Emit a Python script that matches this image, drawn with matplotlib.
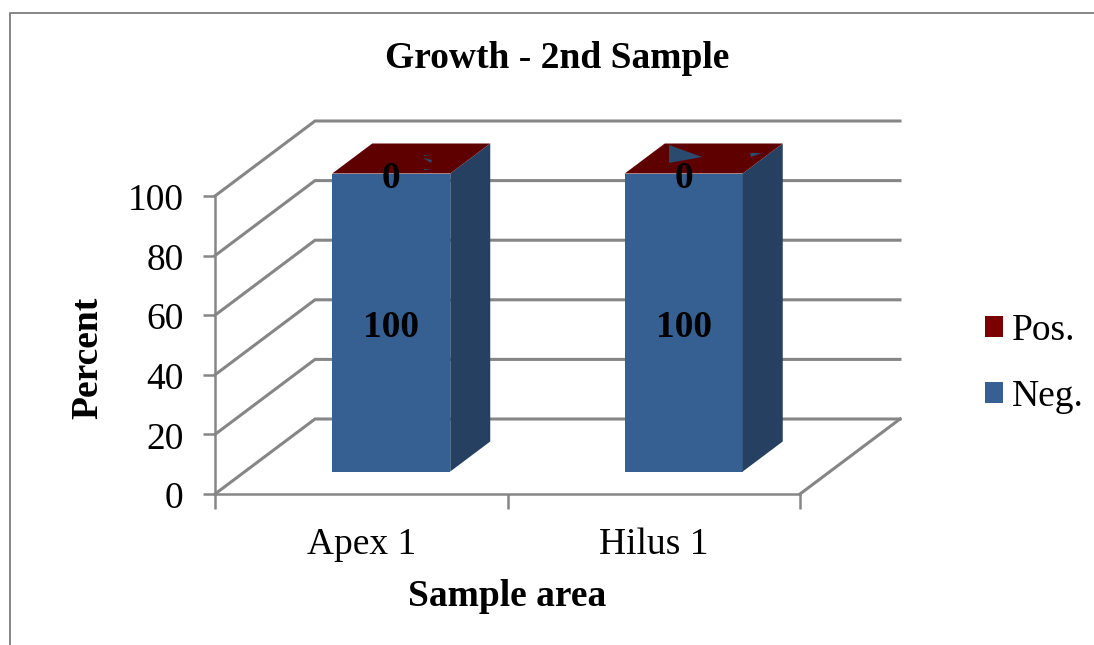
import matplotlib
matplotlib.use("Agg")
import matplotlib.pyplot as plt
from matplotlib.lines import Line2D
from matplotlib.patches import Polygon, Patch
from matplotlib.transforms import ScaledTranslation

categories = ["Apex 1", "Hilus 1"]
neg_values = [100, 100]
pos_values = [0, 0]
y_ticks = [0, 20, 40, 60, 80, 100]

W, H = 1094, 645
BLUE, SIDE, RED, LEG_RED = "#376092", "#254061", "#5f0000", "#7a0000"
GREY = "#868686"
SPECK = "#2a4a70"
FS = 27

plt.rcParams["font.family"] = ["Liberation Serif", "DejaVu Serif"]
fig = plt.figure(figsize=(W / 100, H / 100), dpi=100)

# axes = the front plane of the 3-D box
L, R, B, T = 215, 800, 494, 196
ax = fig.add_axes([L / W, 1 - B / H, (R - L) / W, (B - T) / H])
ax.set_xlim(0, len(categories))
ax.set_ylim(0, 100)
ax.patch.set_visible(False)
for s in ("top", "right"):
    ax.spines[s].set_visible(False)
for s in ("left", "bottom"):
    ax.spines[s].set_color(GREY)
    ax.spines[s].set_linewidth(1.8)

DX = 100 / ((R - L) / len(categories))   # box depth in category units
DY = 75 / ((B - T) / 100)                # box depth in percent units


def proj(x, y, d=0.0):
    """category x, percent y, depth fraction d -> data coordinates"""
    return x + d * DX, y + d * DY


# walls and floor
for v in y_ticks:
    pts = [proj(0, v), proj(0, v, 1), proj(len(categories), v, 1)]
    ax.add_line(Line2D(*zip(*pts), color=GREY, lw=2.2, clip_on=False, zorder=1,
                       solid_joinstyle="miter"))
floor = [proj(len(categories), 0), proj(len(categories), 0, 1)]
ax.add_line(Line2D(*zip(*floor), color=GREY, lw=2.2, clip_on=False, zorder=1))

# bars
BAR_W = 118 / ((R - L) / len(categories))
D0, D1 = 0.30, 0.70
for i, (n, p) in enumerate(zip(neg_values, pos_values)):
    x0 = i + 0.5 - BAR_W / 2
    x1 = x0 + BAR_W
    top = n + p
    ax.add_patch(Polygon([proj(x0, 0, D0), proj(x1, 0, D0), proj(x1, top, D0), proj(x0, top, D0)],
                         closed=True, fc=BLUE, ec="none", clip_on=False, zorder=3))
    ax.add_patch(Polygon([proj(x1, 0, D0), proj(x1, 0, D1), proj(x1, top, D1), proj(x1, top, D0)],
                         closed=True, fc=SIDE, ec="none", clip_on=False, zorder=3))
    ax.add_patch(Polygon([proj(x0, top, D0), proj(x1, top, D0), proj(x1, top, D1), proj(x0, top, D1)],
                         closed=True, fc=RED, ec="none", clip_on=False, zorder=3))
    cx, cy = proj(i + 0.5, n / 2, D0)
    ax.text(cx, cy - 1.7, str(n), ha="center", va="center", fontsize=FS, fontweight="bold",
            color="black", zorder=5, clip_on=False)
    cx, cy = proj(i + 0.5, top, D0)
    ax.text(cx, cy - 1.7, str(p), ha="center", va="center", fontsize=FS, fontweight="bold",
            color="black", zorder=5, clip_on=False)

# rendering specks on the zero-height red tops (figure pixels)
specks = [[(423, 155), (432, 156), (424, 156)],
          [(423, 158), (432, 160), (431, 163)],
          [(424, 169), (433, 169), (424, 170)],
          [(669, 145), (702, 157), (669, 163)],
          [(750, 153), (762, 153), (751, 157)]]
for sp in specks:
    fig.add_artist(Polygon([(x / W, 1 - y / H) for x, y in sp], closed=True, fc=SPECK, ec="none",
                           transform=fig.transFigure, zorder=6))

# axes ticks and labels
ax.set_yticks(y_ticks)
ax.tick_params(axis="y", labelsize=FS, length=9, width=1.8, color=GREY, pad=13.5)
shift = ScaledTranslation(0, 1 / 100, fig.dpi_scale_trans)
shift = ScaledTranslation(0, -1 / 100, fig.dpi_scale_trans)
for lab in ax.get_yticklabels():
    lab.set_transform(lab.get_transform() + shift)
ax.set_xticks(range(len(categories) + 1))
ax.set_xticklabels([])
ax.tick_params(axis="x", which="major", length=11, width=1.8, color=GREY)
ax.set_xticks([i + 0.5 for i in range(len(categories))], minor=True)
ax.set_xticklabels(categories, minor=True)
ax.tick_params(axis="x", which="minor", length=0, labelsize=FS, pad=24)

fig.text(507 / W, 1 - 596 / H, "Sample area", ha="center", va="center", fontsize=FS, fontweight="bold")
fig.text(88 / W, 1 - 358 / H, "Percent", ha="center", va="center", rotation=90, fontsize=FS, fontweight="bold")
fig.text(557 / W, 1 - 59 / H, "Growth - 2nd Sample", ha="center", va="center", fontsize=FS, fontweight="bold")

# legend
handles = [Patch(fc=LEG_RED, ec="none", label="Pos."), Patch(fc=BLUE, ec="none", label="Neg.")]
fig.legend(handles=handles, loc="center left", bbox_to_anchor=(984.5 / W, 1 - 364 / H), frameon=False,
           fontsize=FS, handlelength=0.5, handleheight=0.48, handletextpad=0.22,
           labelspacing=0.84, borderpad=0, borderaxespad=0)

# chart frame (only its top and left edges are in view)
fig.add_artist(Line2D([9.5 / W, 9.5 / W, 1], [0, 1 - 12.5 / H, 1 - 12.5 / H], color=GREY, lw=1.4,
                      transform=fig.transFigure))

fig.savefig("out.png", dpi=100, facecolor="white")
